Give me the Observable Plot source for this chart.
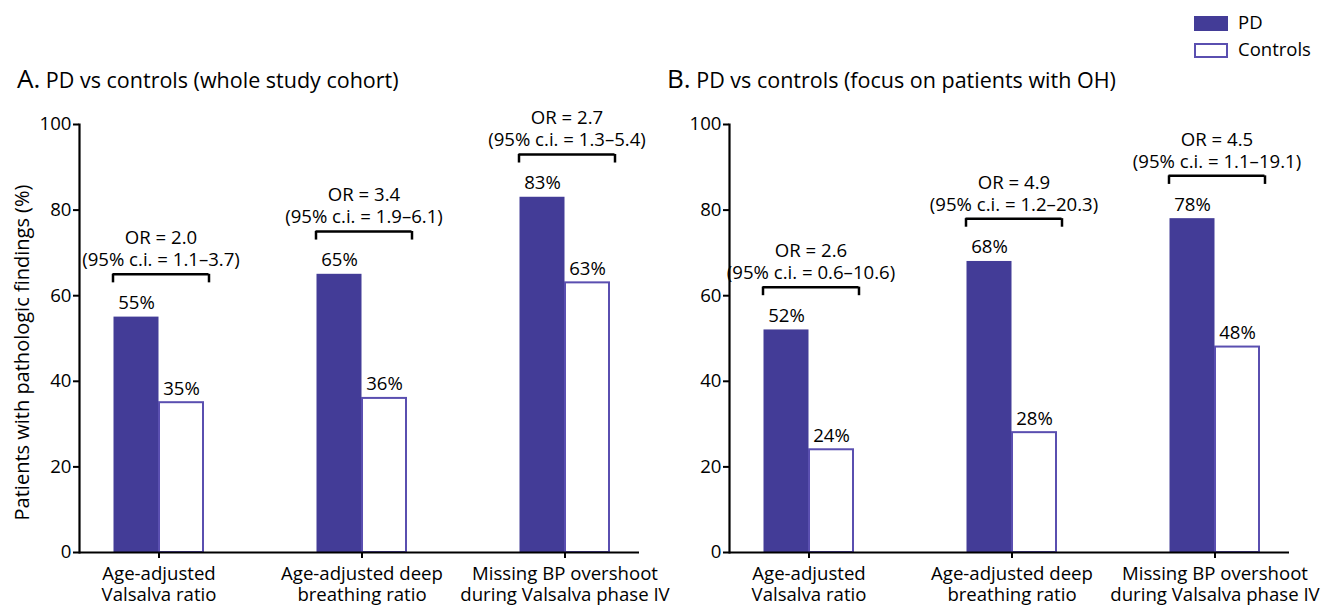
<!DOCTYPE html>
<html>
<head>
<meta charset="utf-8">
<script src="https://cdn.jsdelivr.net/npm/d3@7"></script>
<script src="https://cdn.jsdelivr.net/npm/@observablehq/plot@0.6"></script>
<style>
  html, body { margin: 0; padding: 0; background: #fff; }
  #root { position: relative; width: 1322px; height: 607px; overflow: hidden; font-family: "Open Sans", sans-serif; color: #000; }
  .title { position: absolute; top: 65px; line-height: 26px; font-size: 26px; white-space: nowrap; }
  .title .sub { font-size: 21.5px; }
  .legend-swatch { position: absolute; left: 1194px; width: 34px; height: 15px; box-sizing: border-box; }
  .legend-text { position: absolute; left: 1238px; font-size: 18.5px; line-height: 19px; }
  .panel { position: absolute; top: 95px; }
</style>
</head>
<body>
<div id="root">
  <div class="title" style="left:17px">A.<span class="sub"> PD vs controls (whole study cohort)</span></div>
  <div class="title" style="left:667px">B.<span class="sub"> PD vs controls (focus on patients with OH)</span></div>
  <div class="legend-swatch" style="top:16px; background:#433c97;"></div>
  <div class="legend-text" style="top:12px">PD</div>
  <div class="legend-swatch" style="top:43px; border:2px solid #5a4fb0; background:#fff;"></div>
  <div class="legend-text" style="top:39px">Controls</div>
  <div id="panelA" class="panel" style="left:0px"></div>
  <div id="panelB" class="panel" style="left:650px"></div>
</div>
<script>
// ---- data ----
const categories = ["Age-adjusted\nValsalva ratio", "Age-adjusted deep\nbreathing ratio", "Missing BP overshoot\nduring Valsalva phase IV"];
const yTicks = [0, 20, 40, 60, 80, 100];
const yLabel = "Patients with pathologic findings (%)";

const pdA = [55, 65, 83];
const controlsA = [35, 36, 63];
const orA = ["OR = 2.0", "OR = 3.4", "OR = 2.7"];
const ciA = ["(95% c.i. = 1.1–3.7)", "(95% c.i. = 1.9–6.1)", "(95% c.i. = 1.3–5.4)"];

const pdB = [52, 68, 78];
const controlsB = [24, 28, 48];
const orB = ["OR = 2.6", "OR = 4.9", "OR = 4.5"];
const ciB = ["(95% c.i. = 0.6–10.6)", "(95% c.i. = 1.2–20.3)", "(95% c.i. = 1.1–19.1)"];

const PURPLE = "#433c97";
const OUTLINE = "#5a4fb0";
const FS = 18.6;

function panel(pd, ctrl, or, ci, width, withLabel) {
  const rows = categories.map((c, i) => ({cat: c, pd: pd[i], ctrl: ctrl[i], or: or[i], ci: ci[i], level: pd[i] + 10}));
  const marks = [
    Plot.axisY({ticks: yTicks, tickSize: 6, tickPadding: 2, strokeWidth: 2, fontSize: FS, label: null}),
    Plot.axisX({tickSize: 6, tickPadding: 7, strokeWidth: 2, fontSize: FS, lineHeight: 1.12, label: null}),
    Plot.barY(rows, {x: "cat", y: "pd", fill: PURPLE, insetLeft: 56.5, insetRight: 101.5}),
    Plot.barY(rows, {x: "cat", y: "ctrl", fill: "white", stroke: OUTLINE, strokeWidth: 2, insetLeft: 102, insetRight: 57}),
    Plot.ruleY([0], {strokeWidth: 2.2}),
    Plot.frame({anchor: "left", strokeWidth: 2.2}),
    Plot.text(rows, {x: "cat", y: "pd", text: d => d.pd + "%", dx: -22.5, dy: -14, fontSize: FS}),
    Plot.text(rows, {x: "cat", y: "ctrl", text: d => d.ctrl + "%", dx: 22.5, dy: -14, fontSize: FS}),
    Plot.tickY(rows, {x: "cat", y: "level", insetLeft: 55.5, insetRight: 51.5, strokeWidth: 2.5}),
    Plot.ruleX(rows, {x: "cat", y1: "level", y2: d => d.level - 2, dx: -46, strokeWidth: 2.5}),
    Plot.ruleX(rows, {x: "cat", y1: "level", y2: d => d.level - 2, dx: 50, strokeWidth: 2.5}),
    Plot.text(rows, {x: "cat", y: "level", text: "ci", dx: 2, dy: -14, fontSize: FS}),
    Plot.text(rows, {x: "cat", y: "level", text: "or", dx: 2, dy: -36, fontSize: FS})
  ];
  if (withLabel) {
    marks.push(Plot.text([yLabel], {frameAnchor: "left", textAnchor: "middle", text: d => d, rotate: -90, dx: -57, dy: 14, fontSize: 20}));
  }
  return Plot.plot({
    width: width,
    height: 512,
    marginLeft: 79,
    marginRight: width - 639,
    marginTop: 29,
    marginBottom: 55,
    style: {fontFamily: "Open Sans, sans-serif", fontSize: "18px", color: "#000", background: "transparent", overflow: "visible"},
    x: {type: "band", domain: categories, range: [56.5, 665.5], padding: 0, label: null, axis: null},
    y: {domain: [0, 100], label: null, axis: null},
    marks
  });
}

document.getElementById("panelA").appendChild(panel(pdA, controlsA, orA, ciA, 650, true));
document.getElementById("panelB").appendChild(panel(pdB, controlsB, orB, ciB, 672, false));
</script>
</body>
</html>
